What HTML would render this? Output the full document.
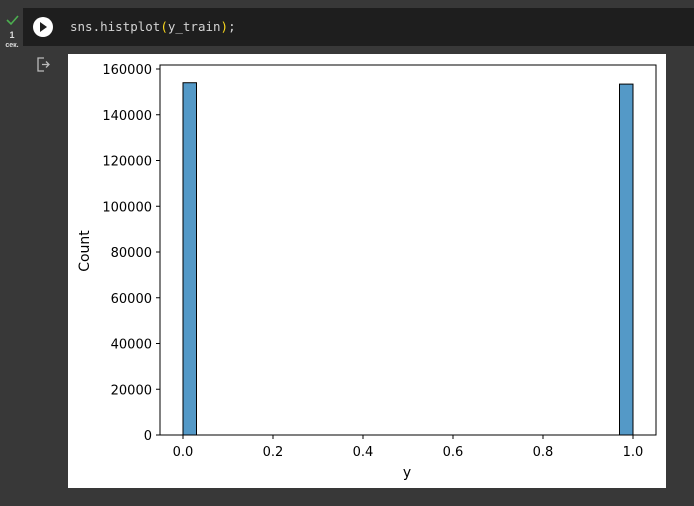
<!DOCTYPE html>
<html><head><meta charset="utf-8"><style>
body{margin:0;width:694px;height:506px;background:#383838;overflow:hidden;font-family:"Liberation Sans",sans-serif}
#cell{position:absolute;left:23px;top:8px;width:671px;height:38px;background:#1e1e1e}
#code{position:absolute;left:70px;top:19px;font-family:"DejaVu Sans Mono","Liberation Mono",monospace;font-size:12.5px;color:#d4d4d4}
#img{position:absolute;left:68px;top:54px;width:598px;height:434px;background:#fff}
#chart text{font-family:"DejaVu Sans",sans-serif}
</style></head><body>
<div id="cell"></div>
<svg style="position:absolute;left:0;top:0" width="694" height="506">
<path d="M7 20 L11 24 L18 16" stroke="#4caf50" stroke-width="1.6" fill="none"/>
<text x="12" y="38" fill="#ddd" font-size="9" text-anchor="middle" font-weight="bold">1</text>
<text x="12" y="47" fill="#ddd" font-size="7" text-anchor="middle" font-weight="bold">сек.</text>
<g><circle cx="43" cy="27" r="10" fill="#fff"/><path d="M40 22 L47 27 L40 32Z" fill="#1e1e1e"/></g>
<g stroke="#bbb" stroke-width="1.3" fill="none"><path d="M44 58 H38 V71 H44"/><path d="M42 64.5 H49 M46 61.5 L49 64.5 L46 67.5"/></g>
</svg>
<div id="code">sns.histplot<span style="color:#f9d71c">(</span>y_train<span style="color:#f9d71c">)</span>;</div>
<div id="img"></div>
<svg id="chart" style="position:absolute;left:0;top:0" width="694" height="506"></svg>
<script>
const categories=[0,1];
const counts=[154000,153400];
const binWidth=0.03;
const yTicks=[0,20000,40000,60000,80000,100000,120000,140000,160000];
const xTicks=[0,0.2,0.4,0.6,0.8,1.0];
const svg=document.getElementById('chart');
const NS='http://www.w3.org/2000/svg';
const L=160,R=656,T=65,B=435;
const x=v=>183+v*450;
const y=v=>435-v*366/160000;
function el(t,a){const e=document.createElementNS(NS,t);for(const k in a)e.setAttribute(k,a[k]);svg.appendChild(e);return e;}
categories.forEach((c,i)=>{
 const r=el('rect',{x:x(c)-(c>0.5?binWidth*450:0),y:y(counts[i]),width:binWidth*450,height:B-y(counts[i]),fill:'#5499c7',stroke:'#000','stroke-width':1});
 
 
});
const fr=el('rect',{x:L,y:T,width:R-L,height:B-T,fill:'none',stroke:'#000','stroke-width':1});


yTicks.forEach(t=>{
 el('line',{x1:L-4,x2:L,y1:y(t),y2:y(t),stroke:'#000'});
 const tx=el('text',{x:L-8,y:y(t)+5,'text-anchor':'end','font-size':13,fill:'#000'});
 tx.textContent=t;
 
 
});
xTicks.forEach(t=>{
 el('line',{x1:x(t),x2:x(t),y1:B,y2:B+4,stroke:'#000'});
 const tx=el('text',{x:x(t),y:B+21,'text-anchor':'middle','font-size':13,fill:'#000'});
 tx.textContent=t.toFixed(1);
 
 
});
const xl=el('text',{x:407,y:477,'text-anchor':'middle','font-size':14,fill:'#000'});
xl.textContent='y';


const yl=el('text',{x:89,y:251,'text-anchor':'middle','font-size':14,fill:'#000',transform:'rotate(-90 89 251)'});
yl.textContent='Count';


</script>
</body></html>
